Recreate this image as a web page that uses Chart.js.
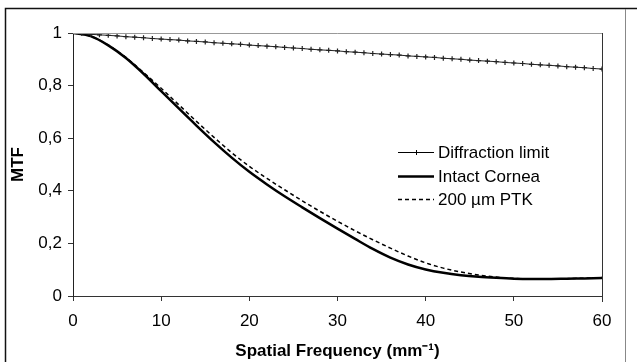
<!DOCTYPE html>
<html lang="en">
<head>
<meta charset="UTF-8">
<title>MTF</title>
<script src="https://cdn.jsdelivr.net/npm/chart.js"></script>
<style>
  html, body { margin: 0; padding: 0; background: #fff; }
  #wrap { width: 637px; height: 362px; position: relative; }
</style>
</head>
<body>
<div id="wrap"><canvas id="myChart" width="637" height="362"></canvas></div>
<script>
// spatial frequency (mm-1)
const freqDiff = [0,1,2,3,4,5,6,7,8,9,10,11,12,13,14,15,16,17,18,19,20,21,22,23,24,25,26,27,28,29,30,
                  31,32,33,34,35,36,37,38,39,40,41,42,43,44,45,46,47,48,49,50,51,52,53,54,55,56,57,58,59,60]
const diffLimit = [1.000,0.998,0.995,0.993,0.991,0.989,0.986,0.984,0.982,0.979,0.977,0.975,0.973,0.970,0.968,0.966,
                   0.963,0.961,0.959,0.957,0.954,0.952,0.950,0.948,0.945,0.943,0.941,0.938,0.936,0.934,0.932,
                   0.929,0.927,0.925,0.922,0.920,0.918,0.916,0.913,0.911,0.909,0.907,0.904,0.902,0.900,0.897,
                   0.895,0.893,0.891,0.888,0.886,0.884,0.881,0.879,0.877,0.875,0.872,0.870,0.868,0.865,0.863]

const freq = [0,2,4,6,8,10,12,14,16,18,20,22,24,26,28,30,32,34,36,38,40,42,44,46,48,50,52,54,56,58,60]
const intactCornea = [1.0,0.988,0.953,0.905,0.845,0.779,0.713,0.648,0.585,0.526,0.472,0.424,0.379,0.337,0.296,0.256,
                      0.217,0.179,0.146,0.120,0.101,0.088,0.079,0.073,0.069,0.066,0.065,0.065,0.066,0.067,0.068]
const ptk200 = [1.0,0.988,0.954,0.907,0.85,0.79,0.727,0.664,0.603,0.545,0.493,0.447,0.404,0.362,0.322,0.284,
                0.248,0.214,0.182,0.152,0.126,0.106,0.091,0.08,0.072,0.067,0.065,0.065,0.066,0.068,0.07]

const seriesNames = ['Diffraction limit', 'Intact Cornea', '200 \u00b5m PTK']
const xTicks = [0,10,20,30,40,50,60]
const yTicks = [0,0.2,0.4,0.6,0.8,1]

const pts = (xs, ys) => xs.map((x, i) => ({ x: x, y: ys[i] }))

// outer frame + plot frame + legend inside the plot
const decor = {
  id: 'decor',
  afterDraw(chart) {
    const c = chart.ctx, a = chart.chartArea
    c.save()
    c.strokeStyle = '#111'
    c.lineWidth = 1.5
    c.beginPath()
    c.moveTo(5.5, 362); c.lineTo(5.5, 8.5); c.lineTo(637, 8.5)
    c.stroke()
    c.strokeStyle = '#888'
    c.lineWidth = 1
    c.beginPath()
    c.moveTo(625.5, 9); c.lineTo(625.5, 362)
    c.stroke()
    // plot frame top/right
    c.strokeStyle = '#999'
    c.beginPath()
    c.moveTo(a.left, a.top + 0.5); c.lineTo(a.right + 0.5, a.top + 0.5)
    c.stroke()
    c.strokeStyle = '#333'
    c.beginPath()
    c.moveTo(a.right + 0.5, a.top); c.lineTo(a.right + 0.5, a.bottom + 6)
    c.stroke()

    // legend
    const lx0 = 398, lx1 = 434, tx = 438
    const rows = [152, 176, 199]
    c.font = '17px "Liberation Sans", Arial, sans-serif'
    c.fillStyle = '#000'
    c.textBaseline = 'middle'
    rows.forEach((y, i) => {
      const ds = chart.data.datasets[i]
      c.strokeStyle = '#000'
      c.lineWidth = ds.borderWidth
      c.setLineDash(ds.borderDash || [])
      c.beginPath()
      c.moveTo(lx0, y + 0.5); c.lineTo(lx1, y + 0.5)
      c.stroke()
      c.setLineDash([])
      if (i === 0) {
        c.beginPath()
        c.moveTo(416.5, y - 2); c.lineTo(416.5, y + 3)
        c.stroke()
      }
      c.fillText(seriesNames[i], tx, y + 1)
    })
    c.restore()
  }
}

const tickFont = { family: '"Liberation Sans", Arial, sans-serif', size: 17 }
const titleFont = { family: '"Liberation Sans", Arial, sans-serif', size: 17, weight: 'bold' }

const ctx = document.getElementById('myChart')
const myChart = new Chart(ctx, {
  type: 'line',
  data: {
    datasets: [
      {
        label: seriesNames[0],
        data: pts(freqDiff, diffLimit),
        borderColor: '#222',
        borderWidth: 1,
        pointStyle: 'cross',
        pointRadius: 2.5,
        pointBorderColor: '#222',
        pointBorderWidth: 1.2,
        tension: 0
      },
      {
        label: seriesNames[1],
        data: pts(freq, intactCornea),
        borderColor: '#000',
        borderWidth: 2.5,
        pointRadius: 0,
        cubicInterpolationMode: 'monotone'
      },
      {
        label: seriesNames[2],
        data: pts(freq, ptk200),
        borderColor: '#000',
        borderWidth: 1.5,
        borderDash: [4, 3],
        pointRadius: 0,
        cubicInterpolationMode: 'monotone'
      }
    ]
  },
  options: {
    responsive: false,
    animation: false,
    layout: { padding: { left: 0, top: 33, right: 35, bottom: 0 } },
    plugins: {
      legend: { display: false },
      tooltip: { enabled: false }
    },
    scales: {
      x: {
        type: 'linear',
        min: 0, max: 60,
        afterBuildTicks: s => { s.ticks = xTicks.map(v => ({ value: v })) },
        afterFit: s => { s.height = 66 },
        ticks: { color: '#000', font: tickFont, padding: 10, maxRotation: 0 },
        grid: { drawOnChartArea: false, drawTicks: true, tickLength: 5, color: '#333' },
        border: { color: '#333', width: 1 },
        title: {
          display: true,
          text: 'Spatial Frequency (mm\u207b\u00b9)',
          color: '#000',
          font: titleFont,
          padding: { top: 0, bottom: 0 }
        }
      },
      y: {
        min: 0, max: 1,
        afterBuildTicks: s => { s.ticks = yTicks.map(v => ({ value: v })) },
        afterFit: s => { s.width = 73 },
        ticks: {
          color: '#000', font: tickFont, padding: 6,
          callback: v => String(v).replace('.', ',')
        },
        grid: { drawOnChartArea: false, drawTicks: true, tickLength: 5, color: '#333' },
        border: { color: '#222', width: 1 },
        title: {
          display: true,
          text: 'MTF',
          color: '#000',
          font: titleFont,
          padding: { top: 8, bottom: 0 }
        }
      }
    }
  },
  plugins: [decor]
})
</script>
</body>
</html>
